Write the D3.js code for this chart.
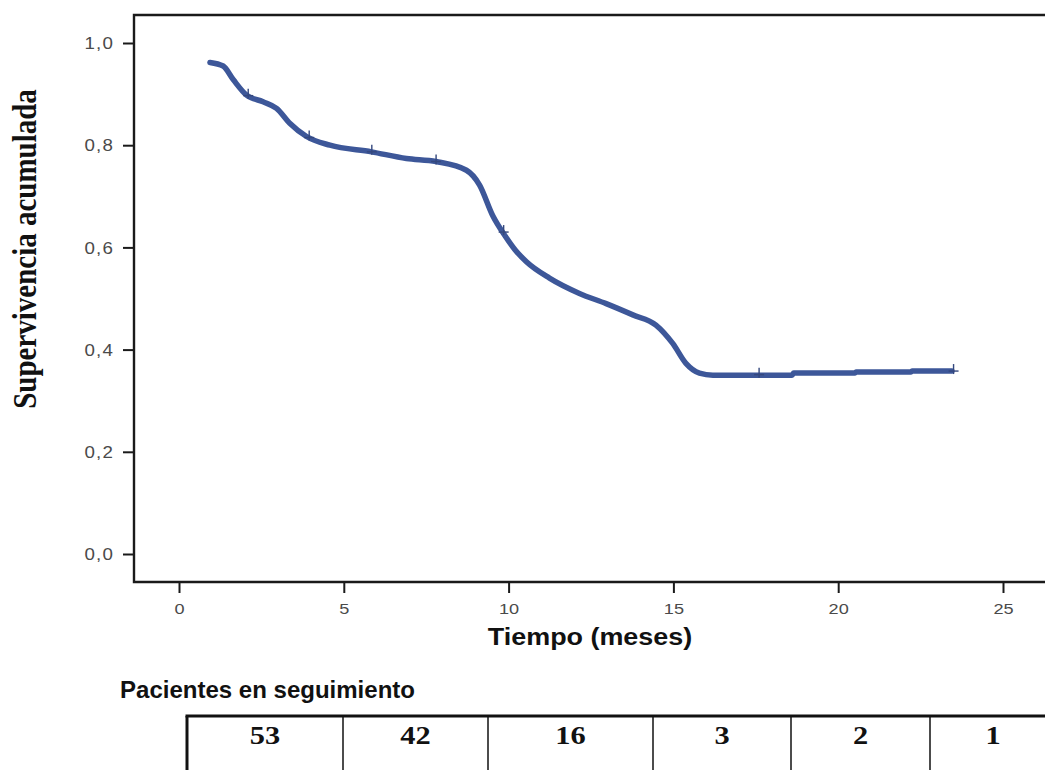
<!DOCTYPE html>
<html>
<head>
<meta charset="utf-8">
<script src="https://cdn.jsdelivr.net/npm/d3@7/dist/d3.min.js"></script>
<style>
  html, body { margin: 0; padding: 0; background: #fff; }
  svg { display: block; }
</style>
</head>
<body>
<svg id="chart" width="1045" height="770"></svg>
<script>
// ---------------- data ----------------
const timeMonths = [0.94, 1.34, 1.65, 2.05, 2.55, 2.96, 3.36, 3.87, 4.58, 5.84, 6.9, 7.8, 8.72, 9.12, 9.52, 9.9, 10.2, 10.54, 11.24, 12.15, 12.96, 13.77, 14.47, 14.98, 15.38, 15.79, 16.2, 17.5, 18.6, 18.65, 20.5, 20.55, 22.2, 22.25, 23.45];
const survival   = [0.962, 0.955, 0.928, 0.898, 0.885, 0.872, 0.843, 0.817, 0.800, 0.787, 0.774, 0.768, 0.751, 0.722, 0.662, 0.622, 0.595, 0.572, 0.540, 0.510, 0.490, 0.468, 0.448, 0.412, 0.373, 0.354, 0.350, 0.350, 0.350, 0.354, 0.354, 0.356, 0.356, 0.358, 0.358];
const censorTimes    = [2.1, 3.95, 5.85, 7.8, 9.85, 17.6, 23.5];
const censorSurvival = [0.897, 0.815, 0.787, 0.768, 0.630, 0.351, 0.358];
const xTicks = [0, 5, 10, 15, 20, 25];
const yTicks = [0, 0.2, 0.4, 0.6, 0.8, 1.0];
const atRisk = [53, 42, 16, 3, 2, 1];

const xTitle = "Tiempo (meses)";
const yTitle = "Supervivencia acumulada";
const tableTitle = "Pacientes en seguimiento";

// ---------------- layout ----------------
const SX = 1.17; // horizontal stretch seen in the reference
const frame = { left: 134, top: 15, right: 1050, bottom: 582 };
const tableTop = 716;
const tableEdges = [187, 343, 488, 653, 791, 930, 1056];
const lineColor = "#3d5799";

const svg = d3.select("#chart");
svg.append("rect").attr("width", 1045).attr("height", 770).attr("fill", "#fff");

const x = d3.scaleLinear().domain([0, 25]).range([179, 1003]);
const y = d3.scaleLinear().domain([0, 1]).range([554, 43]);

// frame
svg.append("path")
  .attr("d", `M${frame.right},${frame.top}H${frame.left}V${frame.bottom}H${frame.right}`)
  .attr("fill", "none").attr("stroke", "#1a1a1a").attr("stroke-width", 2.4);

// y axis
const yAxis = svg.append("g").attr("transform", `translate(${frame.left},0)`)
  .call(d3.axisLeft(y).tickValues(yTicks).tickSize(11).tickSizeOuter(0)
        .tickFormat(d => d3.format(".1f")(d).replace(".", ",")));
yAxis.select(".domain").remove();
yAxis.selectAll(".tick line").attr("stroke", "#1a1a1a").attr("stroke-width", 2);
yAxis.selectAll(".tick text")
  .attr("x", null).attr("dy", "0.36em")
  .attr("transform", `translate(-20,0) scale(${SX},1)`)
  .attr("font-family", "Liberation Sans, Arial, sans-serif")
  .attr("font-size", 16).attr("fill", "#4a4a4a").attr("letter-spacing", 1);

// x axis
const xAxis = svg.append("g").attr("transform", `translate(0,${frame.bottom})`)
  .call(d3.axisBottom(x).tickValues(xTicks).tickSize(11).tickSizeOuter(0).tickPadding(10));
xAxis.select(".domain").remove();
xAxis.selectAll(".tick line").attr("stroke", "#1a1a1a").attr("stroke-width", 2);
xAxis.selectAll(".tick text")
  .attr("transform", `scale(${SX},1)`)
  .attr("font-family", "Liberation Sans, Arial, sans-serif")
  .attr("font-size", 15.5).attr("fill", "#4a4a4a");

// survival curve
const pts = timeMonths.map((t, i) => [t, survival[i]]);
const line = d3.line().x(d => x(d[0])).y(d => y(d[1])).curve(d3.curveMonotoneX);
svg.append("path").datum(pts)
  .attr("d", line)
  .attr("fill", "none").attr("stroke", lineColor)
  .attr("stroke-width", 5.5).attr("stroke-linecap", "round").attr("stroke-linejoin", "round");

// censor marks
const cens = svg.append("g").attr("stroke", "#34487e").attr("stroke-width", 1.4);
censorTimes.forEach((t, i) => {
  const cx = x(t), cy = y(censorSurvival[i]);
  cens.append("line").attr("x1", cx).attr("x2", cx).attr("y1", cy - 7).attr("y2", cy + 3);
  cens.append("line").attr("x1", cx - 5).attr("x2", cx + 5).attr("y1", cy).attr("y2", cy);
});

// titles
svg.append("text").text(xTitle)
  .attr("transform", `translate(590,645) scale(${SX},1)`)
  .attr("text-anchor", "middle")
  .attr("font-family", "Liberation Sans, Arial, sans-serif")
  .attr("font-weight", "bold").attr("font-size", 23).attr("fill", "#111");

svg.append("text").text(yTitle)
  .attr("transform", `translate(36,249) scale(${SX},1) rotate(-90)`)
  .attr("text-anchor", "middle")
  .attr("font-family", "Liberation Serif, 'Times New Roman', serif")
  .attr("font-weight", "bold").attr("font-size", 29).attr("fill", "#111");

svg.append("text").text(tableTitle)
  .attr("x", 120).attr("y", 698)
  .attr("textLength", 295).attr("lengthAdjust", "spacingAndGlyphs")
  .attr("font-family", "Liberation Sans, Arial, sans-serif")
  .attr("font-weight", "bold").attr("font-size", 24).attr("fill", "#111");

// at-risk table
const tbl = svg.append("g");
tbl.append("line").attr("x1", tableEdges[0] - 1.5).attr("x2", 1050)
  .attr("y1", tableTop).attr("y2", tableTop).attr("stroke", "#111").attr("stroke-width", 3);
tableEdges.forEach((ex, i) => {
  tbl.append("line").attr("x1", ex).attr("x2", ex).attr("y1", tableTop).attr("y2", 775)
    .attr("stroke", "#111").attr("stroke-width", i === 0 ? 3 : 1.5);
});
atRisk.forEach((v, i) => {
  const cx = (tableEdges[i] + tableEdges[i + 1]) / 2;
  tbl.append("text").text(v)
    .attr("transform", `translate(${cx},744) scale(${SX},1)`)
    .attr("text-anchor", "middle")
    .attr("font-family", "Liberation Serif, 'Times New Roman', serif")
    .attr("font-weight", "bold").attr("font-size", 26).attr("fill", "#111");
});
</script>
</body>
</html>
